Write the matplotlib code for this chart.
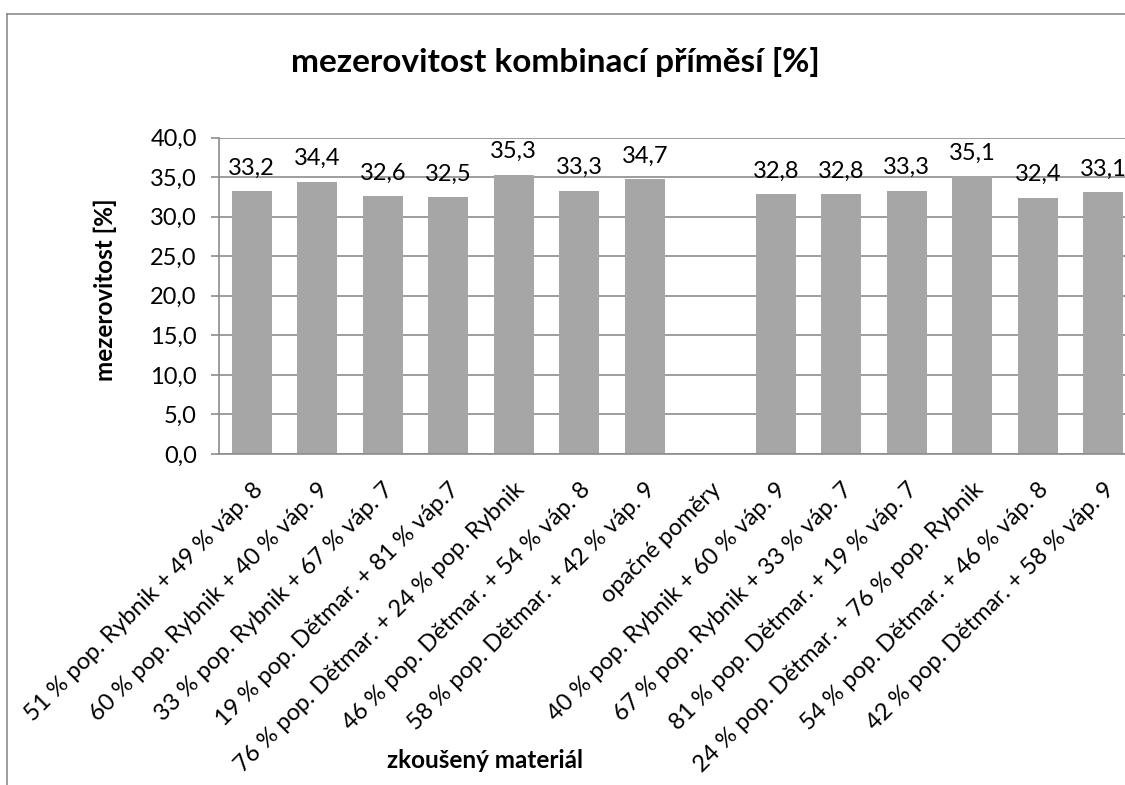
import matplotlib
matplotlib.use("Agg")
import matplotlib.pyplot as plt
from matplotlib.lines import Line2D

plt.rcParams['font.family'] = ['Lato', 'DejaVu Sans']

categories = [
    "51 % pop. Rybnik + 49 % váp. 8",
    "60 % pop. Rybnik + 40 % váp. 9",
    "33 % pop. Rybnik + 67 % váp. 7",
    "19 % pop. Dětmar. + 81 % váp.7",
    "76 % pop. Dětmar. + 24 % pop. Rybnik",
    "46 % pop. Dětmar. + 54 % váp. 8",
    "58 % pop. Dětmar. + 42 % váp. 9",
    "opačné poměry",
    "40 % pop. Rybnik + 60 % váp. 9",
    "67 % pop. Rybnik + 33 % váp. 7",
    "81 % pop. Dětmar. + 19 % váp. 7",
    "24 % pop. Dětmar. + 76 % pop. Rybnik",
    "54 % pop. Dětmar. + 46 % váp. 8",
    "42 % pop. Dětmar. + 58 % váp. 9",
]
values = [33.2, 34.4, 32.6, 32.5, 35.3, 33.3, 34.7, None,
          32.8, 32.8, 33.3, 35.1, 32.4, 33.1]
yticks = [0, 5, 10, 15, 20, 25, 30, 35, 40]

W, H = 1125, 785
fig = plt.figure(figsize=(W / 100, H / 100), dpi=100)
ax = fig.add_axes([219 / W, 331 / H, 917 / W, 316.5 / H])

grid_c = "#8c8c8c"
x = list(range(len(categories)))
for i, v in zip(x, values):
    if v is None:
        continue
    ax.bar(i, v, width=0.61, color="#a6a6a6", zorder=2)
    ax.annotate(f"{v:.1f}".replace(".", ","), (i, v), xytext=(0, 9),
                textcoords="offset points", ha="center", va="bottom",
                fontsize=17, zorder=3)

ax.set_xlim(-0.5, len(categories) - 0.5)
ax.set_ylim(0, 40)
ax.set_yticks(yticks)
ax.set_yticklabels([f"{t:.1f}".replace(".", ",") for t in yticks], fontsize=17)
ax.set_xticks(x)
ax.set_xticklabels(categories, rotation=45, ha="right", rotation_mode="anchor",
                   fontsize=17)
ax.tick_params(axis="x", length=0, pad=18)
ax.tick_params(axis="y", length=6, color=grid_c, width=1.2, pad=10)
ax.yaxis.grid(True, color=grid_c, linewidth=1.2, zorder=0)
ax.set_axisbelow(True)
for s in ["top", "right"]:
    ax.spines[s].set_visible(False)
for s in ["left", "bottom"]:
    ax.spines[s].set_color(grid_c)
    ax.spines[s].set_linewidth(1.2)

fig.text(555 / W, 1 - 62 / H, "mezerovitost kombinací příměsí [%]",
         ha="center", va="center", fontsize=24, fontweight="bold")
fig.text(105 / W, 1 - 290 / H, "mezerovitost [%]", rotation=90,
         ha="center", va="center", fontsize=17.5, fontweight="bold")
fig.text(485 / W, 1 - 760 / H, "zkoušený materiál",
         ha="center", va="center", fontsize=17.5, fontweight="bold")

# chart border (cut off at right and bottom)
bx, by = 6.5 / W, 1 - 13.5 / H
fig.add_artist(Line2D([bx, bx], [0, by], transform=fig.transFigure,
                      color=grid_c, linewidth=1.2))
fig.add_artist(Line2D([bx, 1], [by, by], transform=fig.transFigure,
                      color=grid_c, linewidth=1.2))

fig.savefig("out.png", dpi=100)
